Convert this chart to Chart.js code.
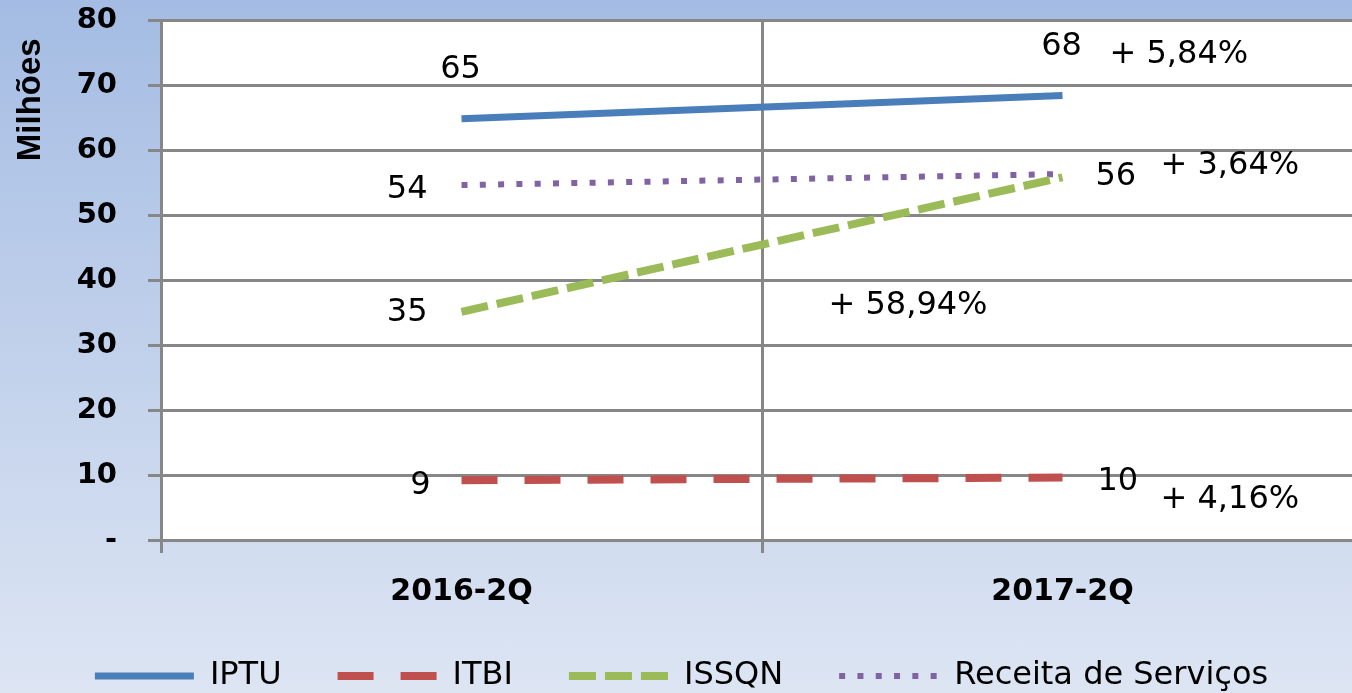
<!DOCTYPE html>
<html><head><meta charset="utf-8">
<script src="https://cdn.jsdelivr.net/npm/chart.js@4.4.1/dist/chart.umd.min.js"></script>
<style>
html,body{margin:0;padding:0;width:1352px;height:693px;overflow:hidden;background:linear-gradient(to bottom,#a4bce3 0%,#dde5f3 100%);}
canvas{display:block;}
</style></head><body>
<canvas id="c" width="1370" height="693"></canvas>
<script>
// ---- data ----
const categories = ['2016-2Q', '2017-2Q'];
const seriesNames = ['IPTU', 'ITBI', 'ISSQN', 'Receita de Serviços'];
const iptuValues = [64.8, 68.4];
const itbiValues = [9.2, 9.6];
const issqnValues = [35.1, 55.8];
const receitaValues = [54.6, 56.3];
const iptuLabels = ['65', '68'];
const itbiLabels = ['9', '10'];
const issqnLabels = ['35', ''];
const receitaLabels = ['54', '56'];
const changeLabels = ['+ 5,84%', '+ 4,16%', '+ 58,94%', '+ 3,64%'];
const yTickValues = [0, 10, 20, 30, 40, 50, 60, 70, 80];
const yTickLabels = ['-', '10', '20', '30', '40', '50', '60', '70', '80'];
const yAxisTitle = 'Milhões';

// ---- styling / placement ----
const FONT = "'DejaVu Sans', sans-serif";
const GRID = '#878787';
const pointLabelSets = [
  { labels: iptuLabels, offsets: [{dx: -1, dy: -49, align: 'center'}, {dx: -1, dy: -49, align: 'center'}] },
  { labels: itbiLabels, offsets: [{dx: -31, dy: 5, align: 'right'}, {dx: 35, dy: 4, align: 'left'}] },
  { labels: issqnLabels, offsets: [{dx: -34, dy: 1, align: 'right'}, {dx: 33, dy: 0, align: 'left'}] },
  { labels: receitaLabels, offsets: [{dx: -34, dy: 5, align: 'right'}, {dx: 33, dy: 3, align: 'left'}] }
];
const changePlacement = [
  {dx: 47, dy: -41}, {dx: 98, dy: 22}, {dx: -234, dy: 128}, {dx: 98, dy: -8}
];

const plotBg = {
  id: 'plotBg',
  beforeDraw(chart) {
    const {ctx, chartArea: a} = chart;
    ctx.save();
    ctx.fillStyle = '#ffffff';
    ctx.fillRect(a.left, a.top, a.right - a.left, a.bottom - a.top);
    ctx.restore();
  }
};

const valueLabels = {
  id: 'valueLabels',
  afterDatasetsDraw(chart) {
    const ctx = chart.ctx;
    ctx.save();
    ctx.font = '32px ' + FONT;
    ctx.fillStyle = '#000';
    ctx.textBaseline = 'middle';
    pointLabelSets.forEach((set, di) => {
      const meta = chart.getDatasetMeta(di);
      set.labels.forEach((txt, i) => {
        if (!txt) return;
        const pt = meta.data[i];
        const o = set.offsets[i];
        ctx.textAlign = o.align;
        ctx.fillText(txt, pt.x + o.dx, pt.y + o.dy);
      });
      const p1 = meta.data[1];
      const c = changePlacement[di];
      ctx.textAlign = 'left';
      ctx.fillText(changeLabels[di], p1.x + c.dx, p1.y + c.dy);
    });
    ctx.restore();
  }
};

const seriesValues = [iptuValues, itbiValues, issqnValues, receitaValues];
const seriesColors = ['#4a7ebb', '#c0504d', '#9bbb59', '#8064a2'];
const seriesDash = [[], [36, 27], [27, 9], [6, 12.3]];
const seriesWidth = [7, 8, 8, 6];

new Chart(document.getElementById('c'), {
  type: 'line',
  data: {
    labels: categories,
    datasets: seriesNames.map((name, i) => ({
      label: name,
      data: seriesValues[i],
      borderColor: seriesColors[i],
      backgroundColor: seriesColors[i],
      borderWidth: seriesWidth[i],
      borderDash: seriesDash[i],
      borderCapStyle: 'butt',
      pointRadius: 0,
      pointHoverRadius: 0,
      tension: 0,
      fill: false
    }))
  },
  options: {
    responsive: false,
    animation: false,
    devicePixelRatio: 1,
    layout: { padding: { top: 20, right: 7, left: 0, bottom: 0 } },
    plugins: {
      tooltip: { enabled: false },
      legend: {
        position: 'bottom',
        maxHeight: 89,
        labels: {
          usePointStyle: true,
          pointStyle: 'line',
          pointStyleWidth: 99,
          boxHeight: 6,
          padding: 56,
          color: '#000',
          font: { family: FONT, size: 32 },
          generateLabels(chart) {
            return chart.data.datasets.map((ds, i) => ({
              text: ds.label,
              fillStyle: ds.borderColor,
              strokeStyle: ds.borderColor,
              fontColor: '#000',
              lineWidth: ds.borderWidth,
              lineDash: ds.borderDash,
              lineCap: 'butt',
              pointStyle: 'line',
              hidden: false,
              datasetIndex: i
            }));
          }
        }
      }
    },
    scales: {
      x: {
        offset: true,
        grid: { offset: true, color: GRID, lineWidth: 3, tickLength: 13, drawOnChartArea: true },
        border: { color: GRID, width: 3 },
        ticks: { color: '#000', padding: 21, maxRotation: 0, font: { family: FONT, size: 30, weight: 'bold' } },
        afterFit(s) { s.height = 64; s.paddingLeft = 0; s.paddingRight = 0; }
      },
      y: {
        min: 0, max: 80,
        afterBuildTicks(s) { s.ticks = yTickValues.map(v => ({ value: v })); },
        grid: { color: GRID, lineWidth: 3, tickLength: 13 },
        border: { color: GRID, width: 3 },
        ticks: {
          color: '#000', padding: 31,
          font: { family: FONT, size: 29, weight: 'bold' },
          callback: (v) => yTickLabels[yTickValues.indexOf(v)]
        },
        title: {
          display: true,
          text: yAxisTitle + '  ',
          align: 'end',
          color: '#000',
          padding: { top: 11, bottom: 0 },
          font: { family: "'Liberation Sans', sans-serif", size: 33, weight: 'bold' }
        },
        afterFit(s) { s.width = 161; s.paddingTop = 0; s.paddingBottom = 0; }
      }
    }
  },
  plugins: [plotBg, valueLabels]
});
</script>
</body></html>
